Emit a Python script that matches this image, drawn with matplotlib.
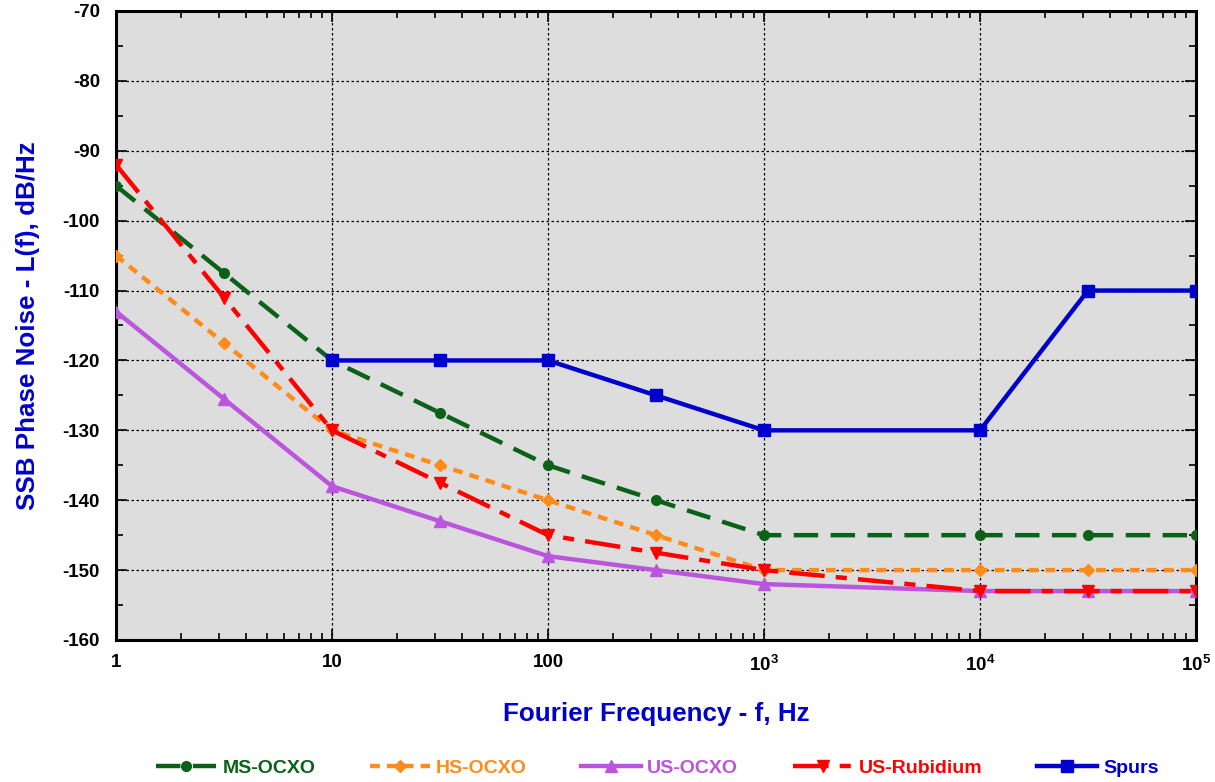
import matplotlib
matplotlib.use("Agg")
import matplotlib.pyplot as plt
from matplotlib.ticker import FixedLocator, NullFormatter

# data
freq = [1, 3.16, 10, 31.6, 100, 316, 1000, 1e4, 3.16e4, 1e5]
ms_ocxo = [-95, -107.5, -120, -127.5, -135, -140, -145, -145, -145, -145]
hs_ocxo = [-105, -117.5, -130, -135, -140, -145, -150, -150, -150, -150]
us_ocxo = [-113, -125.5, -138, -143, -148, -150, -152, -153, -153, -153]
us_rb = [-92, -111, -130, -137.5, -145, -147.5, -150, -153, -153, -153]
spur_freq = [10, 31.6, 100, 316, 1000, 1e4, 3.16e4, 1e5]
spurs = [-120, -120, -120, -125, -130, -130, -110, -110]

x_ticks = [1, 10, 100, 1000, 1e4, 1e5]
x_labels = ["1", "10", "100", r"10$^\mathbf{3}$", r"10$^\mathbf{4}$", r"10$^\mathbf{5}$"]
y_ticks = list(range(-160, -69, 10))

plt.rcParams['font.family'] = ['Liberation Sans', 'DejaVu Sans']
plt.rcParams['axes.unicode_minus'] = False
plt.rcParams['mathtext.fontset'] = 'custom'
plt.rcParams['mathtext.rm'] = 'Liberation Sans:bold'
plt.rcParams['mathtext.bf'] = 'Liberation Sans:bold'

fig = plt.figure(figsize=(12.15, 7.82), dpi=100)
ax = fig.add_axes([116 / 1215, 1 - 640 / 782, 1080 / 1215, 629 / 782])
ax.set_facecolor('#dcdddc')

green = '#0b6118'
orange = '#ff8c1a'
violet = '#bb55dd'
red = '#ff0000'
blue = '#0000cc'

lw = 3.2
ax.plot(freq, ms_ocxo, color=green, lw=lw, dashes=(5.5, 2.8), marker='o', ms=7, label='MS-OCXO', zorder=3)
ax.plot(freq, hs_ocxo, color=orange, lw=lw, dashes=(2.2, 1.6), marker='D', ms=6, label='HS-OCXO', zorder=3)
ax.plot(freq, us_ocxo, color=violet, lw=lw, marker='^', ms=8, label='US-OCXO', zorder=3)
ax.plot(freq, us_rb, color=red, lw=lw, dashes=(8, 2.5, 2.5, 2.5), marker='v', ms=8, label='US-Rubidium', zorder=4)
ax.plot(spur_freq, spurs, color=blue, lw=lw, marker='s', ms=8, label='Spurs', zorder=5)

ax.set_xscale('log')
ax.set_xlim(1, 1e5)
ax.set_ylim(-160, -70)
ax.set_xticks(x_ticks)
ax.set_xticklabels(x_labels)
ax.xaxis.set_minor_locator(FixedLocator([m * 10 ** d for d in range(5) for m in range(2, 10)]))
ax.xaxis.set_minor_formatter(NullFormatter())
ax.set_yticks(y_ticks)
ax.set_yticks(list(range(-155, -70, 10)), minor=True)

ax.grid(True, which='major', color='black', linestyle=(0, (2, 2)), linewidth=0.9)
ax.tick_params(which='both', direction='in', top=True, right=True, width=1.2)
ax.tick_params(which='major', length=8, labelsize=13.5)
ax.tick_params(axis='y', which='major', pad=11.5)
ax.tick_params(axis='x', which='major', pad=10)
ax.tick_params(which='minor', length=5)
for lab in ax.get_xticklabels() + ax.get_yticklabels():
    lab.set_fontweight('bold')
for s in ax.spines.values():
    s.set_linewidth(2.2)

ax.set_xlabel('Fourier Frequency - f, Hz', color=blue, fontsize=18.7, fontweight='bold', labelpad=20)
ax.set_ylabel('SSB Phase Noise - L(f), dB/Hz', color=blue, fontsize=18.7, fontweight='bold', labelpad=16)

leg = fig.legend(loc='center', bbox_to_anchor=(0.541, 14 / 782), ncol=5, frameon=False,
                 fontsize=14, handlelength=3.1, columnspacing=2.8, handletextpad=0.3,
                 borderaxespad=0, borderpad=0)
for txt, line in zip(leg.get_texts(), leg.get_lines()):
    txt.set_color(line.get_color())
    txt.set_fontweight('bold')

fig.savefig('out.png', dpi=100)
